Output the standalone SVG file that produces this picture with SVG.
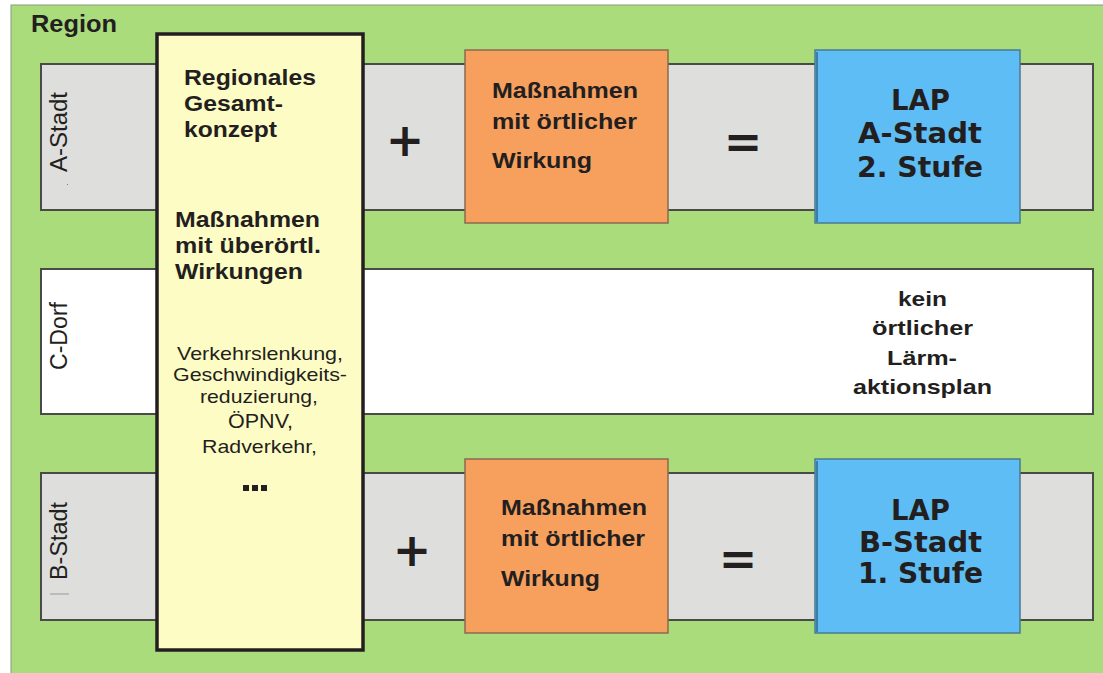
<svg xmlns="http://www.w3.org/2000/svg" width="1103" height="673" viewBox="0 0 1103 673">
<style>
.band{fill:#dededc;stroke:#4a4a48;stroke-width:2}
.bandw{fill:#ffffff;stroke:#4a4a48;stroke-width:2}
.org{fill:#f79f5d;stroke:#8a6a50;stroke-width:1.5}
.blue{fill:#5ebdf4;stroke:#4a7a90;stroke-width:1.5}
.t{font-family:"Liberation Sans",Arial,sans-serif;fill:#231f20}
.b{font-weight:bold;font-size:22px}
.s{font-size:18.5px;text-anchor:start}
.lap{font-family:"DejaVu Sans",Verdana,sans-serif;font-weight:bold;font-size:28px;fill:#231f20}
.rot{font-family:"Liberation Sans",Arial,sans-serif;font-size:23px;fill:#231f20;text-anchor:middle}
.op{font-family:"DejaVu Sans",sans-serif;font-weight:bold;fill:#231f20;text-anchor:middle}
</style>
<rect x="0" y="0" width="1103" height="673" fill="#ffffff"/>
<g id="region">
<rect x="11" y="5" width="1093" height="670" fill="#aadc7c" stroke="#8a9a80" stroke-width="1"/>
<text class="t" font-weight="bold" font-size="23" x="31" y="32" textLength="86" lengthAdjust="spacingAndGlyphs">Region</text>
</g>
<g id="band-a">
<rect class="band" x="41" y="64" width="1052" height="146"/>
<text class="rot" transform="translate(67 132) rotate(-90)" textLength="80" lengthAdjust="spacingAndGlyphs">A-Stadt</text>
<rect x="67" y="184" width="1" height="1" fill="#777"/>
</g>
<g id="band-c">
<rect class="bandw" x="41" y="269" width="1052" height="145"/>
<text class="rot" transform="translate(67 336) rotate(-90)" textLength="68" lengthAdjust="spacingAndGlyphs">C-Dorf</text>
<g class="t" font-weight="bold" font-size="21">
<text x="898" y="306" textLength="49" lengthAdjust="spacingAndGlyphs">kein</text>
<text x="872" y="335" textLength="101" lengthAdjust="spacingAndGlyphs">örtlicher</text>
<text x="887" y="365" textLength="70" lengthAdjust="spacingAndGlyphs">Lärm-</text>
<text x="853" y="394" textLength="139" lengthAdjust="spacingAndGlyphs">aktionsplan</text>
</g>
</g>
<g id="band-b">
<rect class="band" x="41" y="473" width="1052" height="147"/>
<text class="rot" transform="translate(67 541) rotate(-90)" textLength="78" lengthAdjust="spacingAndGlyphs">B-Stadt</text>
<line x1="50" y1="594" x2="69" y2="594" stroke="#999" stroke-width="1"/>
</g>
<g id="regional">
<rect x="157" y="34" width="206" height="616" fill="#fefcc5" stroke="#231f20" stroke-width="3.5"/>
<g class="t b">
<text x="184" y="85" textLength="132" lengthAdjust="spacingAndGlyphs">Regionales</text>
<text x="184" y="111" textLength="99" lengthAdjust="spacingAndGlyphs">Gesamt-</text>
<text x="184" y="137" textLength="93" lengthAdjust="spacingAndGlyphs">konzept</text>
<text x="175" y="227" textLength="145" lengthAdjust="spacingAndGlyphs">Maßnahmen</text>
<text x="175" y="253" textLength="146" lengthAdjust="spacingAndGlyphs">mit überörtl.</text>
<text x="175" y="279" textLength="128" lengthAdjust="spacingAndGlyphs">Wirkungen</text>
</g>
<g class="t s">
<text x="177" y="360" textLength="166" lengthAdjust="spacingAndGlyphs">Verkehrslenkung,</text>
<text x="173" y="381" textLength="174" lengthAdjust="spacingAndGlyphs">Geschwindigkeits-</text>
<text x="200" y="403" textLength="118" lengthAdjust="spacingAndGlyphs">reduzierung,</text>
<text x="228" y="428" font-size="21" textLength="65" lengthAdjust="spacingAndGlyphs">ÖPNV,</text>
<text x="202" y="453" textLength="115" lengthAdjust="spacingAndGlyphs">Radverkehr,</text>
</g>
<g fill="#231f20"><rect x="243" y="485" width="6" height="6"/><rect x="252" y="485" width="6" height="6"/><rect x="261" y="485" width="6" height="6"/></g>
</g>
<g id="ops-a">
<text class="op" x="405" y="156" font-size="46">+</text>
<text class="op" x="743" y="158" font-size="46">=</text>
</g>
<g id="local-a">
<rect class="org" x="465" y="50" width="203" height="173"/>
<g class="t b">
<text x="492" y="98" textLength="146" lengthAdjust="spacingAndGlyphs">Maßnahmen</text>
<text x="492" y="129" textLength="145" lengthAdjust="spacingAndGlyphs">mit örtlicher</text>
<text x="492" y="168" textLength="100" lengthAdjust="spacingAndGlyphs">Wirkung</text>
</g>
</g>
<g id="lap-a">
<rect class="blue" x="815" y="50" width="205" height="173"/>
<line x1="817" y1="52" x2="817" y2="222" stroke="#1e3a60" stroke-width="1"/>
<text class="lap" x="891" y="110" textLength="59" lengthAdjust="spacingAndGlyphs">LAP</text>
<text class="lap" x="858" y="143" textLength="124" lengthAdjust="spacingAndGlyphs">A-Stadt</text>
<text class="lap" x="857" y="177" textLength="126" lengthAdjust="spacingAndGlyphs">2. Stufe</text>
</g>
<g id="ops-b">
<text class="op" x="412" y="566" font-size="46">+</text>
<text class="op" x="738" y="575" font-size="46">=</text>
</g>
<g id="local-b">
<rect class="org" x="465" y="459" width="203" height="174"/>
<g class="t b">
<text x="501" y="515" textLength="146" lengthAdjust="spacingAndGlyphs">Maßnahmen</text>
<text x="501" y="546" textLength="144" lengthAdjust="spacingAndGlyphs">mit örtlicher</text>
<text x="501" y="586" textLength="99" lengthAdjust="spacingAndGlyphs">Wirkung</text>
</g>
</g>
<g id="lap-b">
<rect class="blue" x="815" y="459" width="205" height="174"/>
<line x1="817" y1="461" x2="817" y2="632" stroke="#1e3a60" stroke-width="1"/>
<text class="lap" x="891" y="520" textLength="59" lengthAdjust="spacingAndGlyphs">LAP</text>
<text class="lap" x="859" y="552" textLength="123" lengthAdjust="spacingAndGlyphs">B-Stadt</text>
<text class="lap" x="858" y="583" textLength="125" lengthAdjust="spacingAndGlyphs">1. Stufe</text>
</g>
<g id="connectors"></g>
</svg>
